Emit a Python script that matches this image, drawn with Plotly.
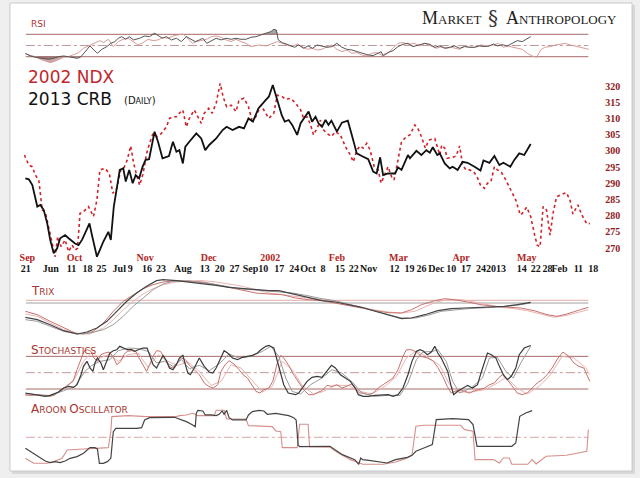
import numpy as np
import plotly.graph_objects as go

# ---------------- data (sessions on a shared trading-day axis) ----------------
# 2002 NDX (red, dotted), rescaled onto the CRB price axis
ndx_x = [4.1, 5.0, 5.7, 6.3, 7.0, 7.7, 8.3, 9.0, 9.9, 10.3, 10.8, 11.5, 12.3, 13.0, 13.7, 14.3, 14.8, 15.3, 16.0, 17.0,
         18.0, 18.7, 19.3, 20.3, 21.2, 21.9, 22.7, 23.5, 24.1, 24.8, 25.5, 26.1, 26.7, 27.3, 28.0, 28.7, 29.3, 30.0, 30.8, 31.7,
         32.7, 33.3, 34.0, 34.7, 35.3, 36.0, 36.7, 37.3, 38.3, 39.0, 39.7, 40.3, 41.2, 41.9, 42.7, 43.5, 44.1, 44.8, 45.7, 46.7,
         47.3, 48.3, 49.2, 49.9, 50.7, 51.7, 52.7, 53.3, 54.3, 55.0, 56.0, 56.7, 57.7, 58.7, 59.7, 60.3, 61.0, 61.7, 62.3, 63.0,
         63.7, 64.0, 65.0, 65.9, 66.7, 67.7, 68.7, 69.7, 70.3, 71.0, 71.7, 72.3, 73.0, 73.7, 74.5, 75.3, 75.9, 76.7, 77.3, 78.0,
         78.5, 79.3, 80.0, 81.0, 81.7, 82.7, 83.3, 84.0, 84.8, 85.5, 86.7, 87.7, 88.1, 88.7, 89.2, 90.3, 91.0, 91.7, 92.3, 93.0,
         93.7, 94.5, 95.2, 95.9, 96.7, 97.3, 98.0, 98.7, 99.3, 100.0, 101.0, 102.0, 103.0, 103.9, 104.3, 105.2, 106.0, 106.8,
         107.3, 107.9, 108.5, 109.2, 109.9, 110.5, 111.2, 112.0, 113.2, 113.9, 114.5, 115.5, 116.3, 117.3, 117.9]
ndx_y = [298.7, 295.6, 295.1, 292.5, 291.0, 281.7, 281.2, 276.1, 269.4, 267.3, 273.5, 270.4, 272.5, 268.9, 270.9, 269.4,
         269.9, 280.7, 281.2, 282.8, 279.7, 284.8, 294.1, 294.6, 293.0, 286.9, 288.4, 294.1, 294.6, 297.2, 301.5, 296.1,
         292.5, 289.4, 293.0, 299.2, 302.3, 305.4, 304.4, 305.4, 307.4, 310.0, 310.5, 310.5, 311.6, 312.6, 307.4, 310.0,
         312.6, 310.5, 308.5, 311.6, 313.1, 311.6, 314.7, 320.8, 316.7, 313.6, 314.1, 312.1, 315.7, 316.2, 313.6, 309.5,
         310.5, 314.1, 311.6, 310.0, 311.6, 317.2, 316.7, 315.9, 316.2, 314.7, 312.6, 310.0, 310.5, 308.0, 304.9, 306.9,
         309.5, 306.9, 305.4, 304.4, 305.9, 304.9, 301.3, 298.7, 296.6, 300.2, 301.5, 300.8, 302.3, 300.2, 295.1, 294.1,
         290.0, 293.0, 295.1, 292.0, 291.0, 297.2, 302.8, 304.4, 304.9, 308.0, 306.9, 304.4, 300.8, 303.3, 303.8, 298.7,
         301.8, 300.8, 297.7, 298.0, 298.4, 301.5, 295.6, 294.1, 294.1, 293.6, 292.0, 289.4, 288.4, 290.0, 290.5, 295.1,
         294.1, 293.6, 291.0, 287.9, 284.8, 280.2, 280.7, 282.6, 279.7, 274.0, 270.9, 270.4, 282.8, 281.7, 274.0, 280.7,
         285.8, 286.4, 287.1, 284.8, 280.5, 283.3, 280.2, 277.4, 277.6]

# 2013 CRB (black, solid)
crb_x = [4.3, 5.0, 5.7, 6.7, 7.3, 8.0, 8.7, 9.3, 10.0, 10.7, 11.3, 12.3, 13.0, 13.7, 14.3, 15.0, 15.7, 16.3, 17.2, 17.7,
         18.7, 19.3, 20.0, 21.0, 21.5, 22.1, 22.7, 23.3, 24.0, 24.5, 25.2, 25.9, 26.5, 27.2, 27.9, 28.5, 29.2, 30.3, 31.0, 31.9,
         33.2, 34.0, 34.7, 35.3, 36.0, 36.5, 37.3, 38.7, 39.7, 40.5, 41.3, 42.7, 44.0, 44.8, 46.0, 47.3, 48.3, 49.2, 50.1, 51.2,
         52.7, 53.3, 54.1, 55.0, 55.9, 56.5, 57.3, 58.0, 59.0, 59.7, 60.7, 61.3, 62.0, 62.7, 63.3, 64.0,
         64.7, 65.3, 65.9, 67.0, 68.0, 69.2, 70.0, 71.0, 72.0, 73.3, 73.9, 74.3, 75.0, 75.7, 76.3, 77.3, 78.7, 79.3, 80.0, 81.3,
         81.7, 83.0, 84.0, 85.0, 85.7, 86.3, 87.2, 87.7, 88.7, 89.7, 90.3, 91.3, 92.3, 93.3, 94.7, 95.9, 96.5, 97.7, 98.7, 99.7,
         100.5, 101.9, 102.7, 103.7, 104.7, 106.0]
crb_y = [291.5, 291.2, 289.4, 282.8, 283.3, 281.7, 277.6, 272.5, 268.4, 269.9, 273.0, 274.0, 273.0, 272.0, 271.4, 270.9,
         272.5, 274.5, 277.6, 274.0, 267.3, 269.4, 272.0, 275.0, 272.5, 282.8, 288.9, 294.1, 294.6, 290.5, 294.1, 290.0,
         292.5, 291.5, 295.1, 297.2, 297.4, 305.9, 302.8, 297.7, 298.4, 302.8, 299.7, 300.2, 296.1, 301.3, 302.8, 305.4,
         303.8, 300.2, 301.8, 303.8, 306.4, 307.4, 306.4, 307.4, 306.9, 310.0, 309.0, 313.1, 315.7, 316.7, 320.3, 315.7,
         311.0, 309.0, 309.5, 308.0, 304.9, 308.5, 311.0, 312.1, 309.0, 310.5, 308.5, 307.4,
         309.5, 308.0, 309.3, 305.9, 308.7, 309.3, 304.9, 299.2, 298.4, 297.4, 295.1, 293.6, 293.0, 298.0, 292.5, 293.0,
         293.0, 294.9, 294.1, 298.7, 297.7, 300.0, 298.7, 300.2, 299.4, 301.1, 298.7, 299.2, 296.1, 294.6, 295.1, 294.1,
         296.6, 296.3, 295.1, 293.9, 297.0, 296.3, 298.4, 295.6, 296.3, 295.1, 297.2, 299.2, 298.7, 302.1]

# RSI
rsi_crb_x = [4.3, 5.3, 6.7, 7.7, 9.0, 10.0, 11.0, 12.0, 13.0, 14.0, 14.8, 15.5, 16.3, 17.3, 18.1, 18.8, 19.7, 20.7, 21.5,
             22.3, 23.0, 23.7, 24.5, 25.2, 26.1, 27.3, 28.3, 29.3, 30.3, 31.0, 31.9, 32.7, 33.7, 34.7, 35.7, 36.7, 37.7,
             38.5, 39.3, 40.0, 40.8, 41.7, 42.7, 43.7, 44.7, 45.7, 46.7, 47.7, 48.7, 49.7, 50.7, 51.7, 52.7, 53.7, 54.3,
             54.8, 55.2, 56.0, 56.8, 57.7, 58.5, 59.3, 60.3, 61.2, 62.1, 63.0, 64.0, 65.0, 66.0, 67.0, 68.0, 69.0, 70.0,
             71.0, 72.0, 73.3, 74.3, 75.3, 75.9, 76.3, 77.3, 78.3, 79.3, 80.3, 81.3, 82.3, 83.3, 84.7, 85.7, 86.7, 87.7,
             88.7, 89.7, 90.7, 91.7, 92.7, 93.7, 94.7, 95.7, 96.7, 97.7, 98.5, 99.3, 100.3, 101.3, 102.3, 103.3, 104.3,
             105.2, 106.0]
rsi_crb_y = [36.1, 31.3, 28.3, 27.1, 25.4, 27.1, 30.1, 31.3, 30.1, 28.3, 27.1, 30.1, 39.0, 49.2, 42.0, 36.1, 43.2, 48.0,
             53.9, 56.9, 62.9, 65.8, 61.1, 65.8, 59.9, 62.9, 67.0, 65.8, 71.8, 68.2, 62.9, 65.8, 59.9, 62.9, 56.9, 65.8,
             61.1, 56.9, 59.9, 62.9, 53.9, 58.7, 62.9, 59.9, 62.9, 61.1, 62.9, 61.1, 61.1, 64.6, 65.8, 68.8, 71.8, 74.8,
             78.9, 77.7, 59.9, 55.1, 52.7, 49.2, 46.8, 51.0, 45.0, 49.2, 45.0, 51.0, 49.2, 46.8, 48.0, 53.9, 46.8, 43.2,
             42.0, 39.0, 37.3, 33.1, 31.9, 36.1, 39.0, 31.3, 37.3, 40.8, 48.0, 52.1, 53.9, 48.0, 51.0, 53.9, 52.1, 46.8,
             49.2, 45.0, 46.8, 49.2, 45.0, 48.0, 46.8, 46.8, 49.2, 48.0, 49.2, 52.7, 49.2, 51.5, 49.2, 53.9, 58.7, 56.9,
             61.1, 65.8]
rsi_ndx_x = [4.3, 5.3, 6.3, 7.3, 8.3, 9.3, 10.0, 11.0, 12.0, 13.0, 14.0, 15.0, 16.0, 17.0, 17.9, 18.7, 19.3, 20.0, 21.0,
             22.0, 23.0, 24.0, 25.0, 26.0, 27.0, 28.0, 29.0, 30.0, 31.0, 32.0, 33.0, 34.0, 35.0, 36.0, 37.0, 37.9, 38.7,
             39.7, 40.8, 41.7, 42.7, 43.7, 44.7, 45.7, 46.7, 47.7, 48.7, 49.7, 50.3, 51.3, 52.7, 54.0, 55.0, 56.0, 57.0,
             58.0, 59.0, 60.0, 61.0, 62.0, 63.0, 64.0, 65.0, 66.0, 67.0, 68.0, 69.0, 70.0, 71.0, 72.0, 73.0, 74.0, 75.0,
             76.0, 77.3, 78.3, 79.3, 80.3, 81.5, 82.5, 83.7, 84.7, 86.0, 87.0, 88.1, 89.2, 90.0, 90.7, 91.7, 92.7, 93.7,
             94.7, 96.0, 97.3, 98.5, 99.5, 100.5, 101.3, 102.3, 103.3, 104.3, 105.3, 106.3, 107.2, 108.0, 108.8, 110.0,
             111.0, 112.0, 113.0, 114.0, 115.0, 116.0, 117.0, 117.7]
rsi_ndx_y = [34.9, 32.5, 30.1, 25.4, 23.0, 19.4, 21.2, 25.4, 28.9, 30.1, 33.1, 37.3, 45.0, 49.2, 53.9, 56.9, 58.7, 55.1,
             61.1, 48.0, 56.9, 61.1, 62.9, 56.9, 51.0, 55.1, 61.1, 58.7, 59.9, 64.6, 62.9, 67.0, 68.8, 70.6, 62.9, 53.9,
             56.9, 58.7, 61.1, 65.8, 67.0, 64.6, 59.9, 56.9, 61.1, 56.9, 53.9, 48.0, 49.2, 51.0, 49.2, 53.9, 56.9, 53.9,
             51.0, 48.0, 52.7, 48.0, 43.2, 45.0, 42.0, 43.2, 48.0, 51.0, 43.2, 39.0, 42.0, 36.1, 37.3, 33.1, 31.3, 36.1,
             37.3, 33.1, 37.3, 45.0, 53.9, 55.1, 52.1, 53.9, 49.2, 53.9, 49.2, 45.0, 48.0, 45.0, 46.8, 45.0, 43.2, 49.2,
             46.8, 46.8, 51.0, 49.2, 51.0, 53.9, 46.8, 49.2, 46.8, 45.0, 43.2, 36.1, 31.3, 28.9, 42.0, 46.8, 48.0, 51.0,
             52.7, 53.9, 51.0, 49.2, 46.8, 45.0, 43.2]

# TRIX (line + signal for each index)
trix_crb_x = [4.3, 6.7, 9.3, 12.0, 14.7, 16.7, 18.7, 20.7, 22.7, 24.7, 26.7, 28.7, 30.7, 32.0, 34.7, 37.3, 40.0, 42.7, 45.3,
              48.0, 50.7, 53.3, 55.3, 57.3, 60.0, 62.7, 64.0, 66.7, 69.3, 72.0, 74.7, 77.3, 80.0, 82.0, 84.7, 87.3, 90.0,
              92.7, 95.3, 98.0, 100.7, 103.3, 106.0]
trix_crb_y = [-0.143, -0.167, -0.217, -0.277, -0.310, -0.290, -0.250, -0.183, -0.083, 0.017, 0.100, 0.167, 0.223, 0.233,
              0.223, 0.210, 0.190, 0.177, 0.157, 0.143, 0.133, 0.123, 0.123, 0.100, 0.067, 0.033, 0.023, 0.010, -0.017,
              -0.043, -0.083, -0.123, -0.157, -0.150, -0.117, -0.077, -0.057, -0.050, -0.043, -0.033, -0.033, -0.017, 0.007]
trix_crb_sig_x = [4.3, 6.7, 9.3, 12.0, 14.7, 17.3, 20.0, 22.0, 24.0, 26.0, 28.0, 30.0, 32.0, 34.0, 36.7, 39.3, 42.0, 44.7,
                  47.3, 50.0, 52.7, 55.3, 58.0, 60.7, 63.3, 64.0, 66.7, 69.3, 72.0, 74.7, 77.3, 80.0, 82.7, 85.3, 88.0,
                  90.7, 93.3, 96.0, 98.7, 101.3, 104.0, 106.0]
trix_crb_sig_y = [-0.167, -0.183, -0.233, -0.283, -0.310, -0.300, -0.267, -0.217, -0.133, -0.033, 0.050, 0.133, 0.190,
                  0.217, 0.223, 0.210, 0.190, 0.167, 0.143, 0.133, 0.123, 0.117, 0.100, 0.077, 0.050, 0.043, 0.023,
                  -0.010, -0.043, -0.077, -0.117, -0.150, -0.150, -0.123, -0.083, -0.067, -0.057, -0.050, -0.043,
                  -0.033, -0.017, 0.0]
trix_ndx_x = [4.3, 6.7, 9.3, 12.0, 14.3, 16.0, 18.0, 20.0, 22.0, 24.0, 26.0, 28.0, 30.0, 32.0, 34.7, 37.3, 40.0, 42.7, 45.3,
              48.0, 50.7, 53.3, 56.0, 58.7, 61.3, 64.0, 66.7, 69.3, 72.0, 74.7, 77.3, 80.0, 82.0, 84.0, 86.7, 88.7, 90.7,
              93.3, 96.0, 98.7, 101.3, 104.0, 106.7, 109.3, 111.3, 113.3, 116.0, 117.6]
trix_ndx_y = [-0.083, -0.117, -0.183, -0.250, -0.300, -0.310, -0.283, -0.200, -0.083, 0.017, 0.083, 0.143, 0.183, 0.210,
              0.223, 0.217, 0.210, 0.183, 0.157, 0.123, 0.100, 0.090, 0.083, 0.050, 0.033, 0.023, 0.0, -0.023, -0.050,
              -0.077, -0.097, -0.100, -0.067, -0.017, 0.023, 0.043, 0.033, 0.010, -0.017, -0.033, -0.043, -0.050, -0.077,
              -0.117, -0.133, -0.110, -0.067, -0.043]
trix_ndx_sig_x = [4.3, 6.7, 9.3, 12.0, 14.7, 17.3, 20.0, 22.0, 24.0, 26.0, 28.0, 30.0, 32.0, 34.7, 37.3, 40.0, 42.7, 45.3,
                  48.0, 50.7, 53.3, 56.0, 58.7, 61.3, 64.0, 66.7, 69.3, 72.0, 74.7, 77.3, 80.0, 82.7, 84.7, 87.0, 89.3,
                  92.0, 94.7, 97.3, 100.0, 102.7, 105.3, 108.0, 110.7, 113.3, 116.0, 117.6]
trix_ndx_sig_y = [-0.110, -0.133, -0.200, -0.267, -0.307, -0.310, -0.250, -0.167, -0.067, 0.017, 0.090, 0.143, 0.183,
                  0.210, 0.223, 0.223, 0.210, 0.190, 0.167, 0.133, 0.100, 0.083, 0.067, 0.050, 0.033, 0.010, -0.017,
                  -0.043, -0.070, -0.090, -0.100, -0.083, -0.043, 0.010, 0.033, 0.033, 0.010, -0.017, -0.043, -0.057,
                  -0.077, -0.110, -0.143, -0.123, -0.083, -0.067]

# Stochastics (%K and %D)
stk_crb_x = [4.3, 5.3, 6.3, 7.3, 8.3, 9.3, 10.0, 11.0, 12.0, 13.0, 14.0, 14.7, 15.5, 16.0, 16.7, 17.3, 17.9, 18.3, 18.8,
             19.5, 20.0, 20.7, 21.3, 22.0, 22.7, 23.3, 24.0, 24.8, 25.7, 26.3, 27.0, 27.9, 28.8, 29.3, 30.0, 30.7, 31.3,
             32.0, 32.7, 33.3, 34.0, 34.7, 35.3, 36.0, 36.5, 37.0, 37.5, 38.3, 39.3, 40.3, 41.3, 42.0, 42.7, 43.7, 44.3,
             45.0, 46.0, 47.0, 48.0, 49.0, 50.0, 51.0, 51.7, 52.7, 53.3, 54.3, 55.0, 55.7, 56.3, 57.2, 58.0, 58.7, 59.3,
             60.0, 61.0, 62.0, 63.0, 64.0, 65.0, 65.9, 66.7, 67.7, 68.7, 69.7, 70.7, 71.3, 72.3, 73.3, 74.7, 76.0, 77.3,
             78.3, 79.3, 80.3, 81.3, 82.1, 83.0, 83.7, 84.3, 85.2, 86.0, 86.7, 87.3, 88.0, 88.7, 89.3, 90.0, 90.5, 91.3,
             92.3, 93.3, 94.3, 95.3, 96.0, 96.7, 97.3, 98.1, 99.0, 99.7, 100.5, 101.3, 102.1, 103.0, 103.7, 104.7, 106.0]
stk_crb_y = [12.6, 10.8, 9.6, 8.4, 6.5, 8.4, 10.8, 14.5, 21.8, 24.9, 23.0, 27.9, 46.3, 61.6, 70.8, 58.6, 52.4, 67.8, 76.9,
             67.8, 55.5, 70.8, 86.1, 90.4, 92.2, 98.4, 95.3, 92.2, 92.2, 89.2, 92.2, 95.3, 95.3, 83.1, 64.7, 58.6, 70.8,
             81.8, 72.0, 58.6, 55.5, 64.7, 76.9, 81.8, 64.7, 49.4, 46.3, 58.6, 76.9, 61.6, 51.2, 49.4, 58.6, 76.9, 90.4,
             86.1, 76.9, 73.9, 78.2, 80.0, 81.8, 86.1, 92.2, 98.4, 100.0, 95.3, 70.8, 46.3, 27.9, 12.6, 10.8, 9.6, 12.6,
             21.8, 34.1, 41.4, 43.3, 41.4, 52.4, 63.5, 58.6, 46.3, 40.2, 34.1, 21.8, 9.6, 6.5, 6.5, 8.4, 8.4, 9.6, 6.5,
             9.6, 21.8, 46.3, 70.8, 89.2, 92.2, 90.4, 83.1, 88.0, 98.4, 86.1, 76.9, 64.7, 52.4, 24.9, 9.6, 15.7, 21.8,
             26.7, 21.8, 27.9, 49.4, 70.8, 86.1, 83.1, 76.9, 61.6, 46.3, 37.1, 43.3, 58.6, 83.1, 95.3, 100.0]
std_crb_x = [4.3, 6.7, 9.3, 12.0, 14.3, 16.3, 17.7, 19.3, 21.3, 23.0, 25.0, 27.0, 29.0, 30.7, 32.3, 34.0, 35.7, 37.3, 39.3,
             41.3, 43.3, 45.3, 47.3, 49.7, 52.0, 53.7, 55.3, 56.7, 58.0, 59.7, 61.7, 64.0, 66.0, 68.0, 70.3, 72.0, 74.7,
             77.3, 79.7, 81.3, 83.0, 84.3, 86.3, 87.3, 89.0, 90.3, 91.7, 94.0, 96.3, 97.7, 99.3, 101.0, 102.5, 104.0, 106.0]
std_crb_y = [11.4, 9.6, 7.7, 16.9, 24.9, 52.4, 63.5, 70.8, 73.9, 90.4, 95.3, 94.1, 89.2, 67.8, 70.8, 61.6, 73.9, 57.3, 63.5,
             53.7, 65.9, 84.3, 76.9, 80.0, 89.2, 98.4, 80.0, 40.2, 15.7, 10.8, 27.9, 40.2, 55.5, 49.4, 31.0, 12.6, 6.5,
             8.4, 8.4, 31.0, 73.9, 88.0, 89.2, 92.2, 70.8, 34.1, 12.6, 21.8, 40.2, 76.9, 78.2, 52.4, 40.2, 67.8, 98.4]
stk_ndx_x = [4.3, 5.3, 6.7, 8.0, 9.3, 10.3, 11.0, 12.0, 13.0, 13.9, 14.7, 15.5, 16.1, 16.8, 17.5, 18.1, 18.8, 19.5, 20.3,
             21.2, 21.9, 22.7, 23.5, 24.1, 24.8, 25.7, 26.5, 27.0, 27.9, 28.7, 29.3, 30.0, 30.7, 31.5, 32.3, 33.2, 34.0,
             34.8, 35.7, 36.5, 37.3, 38.3, 39.3, 40.3, 41.2, 42.1, 43.0, 43.7, 44.5, 45.3, 46.3, 47.3, 48.1, 49.0, 49.9,
             50.7, 51.5, 52.3, 53.3, 54.1, 55.0, 55.7, 56.3, 57.3, 58.3, 59.3, 60.3, 61.3, 62.3, 63.3, 64.0, 65.0, 66.0,
             67.0, 68.0, 69.0, 69.9, 70.7, 71.5, 72.3, 73.3, 74.3, 75.3, 76.3, 77.3, 78.3, 79.3, 80.3, 81.0, 82.0, 83.0,
             84.0, 85.2, 86.3, 87.3, 88.3, 89.2, 90.0, 90.8, 91.7, 92.7, 93.7, 94.7, 95.7, 96.7, 97.7, 98.7, 99.5, 100.3,
             101.3, 102.3, 103.3, 104.3, 105.3, 106.3, 107.3, 108.3, 109.3, 110.3, 111.5, 112.5, 113.7, 114.7, 115.7,
             116.7, 117.3, 117.9]
stk_ndx_y = [9.6, 8.4, 9.6, 8.4, 6.5, 9.6, 15.7, 21.8, 27.9, 34.1, 55.5, 73.9, 89.2, 92.2, 89.2, 76.9, 70.8, 83.1, 86.1,
             88.0, 80.0, 64.7, 70.8, 83.1, 89.2, 90.4, 89.2, 80.0, 64.7, 52.4, 64.7, 80.0, 90.4, 89.2, 76.9, 61.6, 58.6,
             67.8, 76.9, 73.9, 63.5, 55.5, 46.3, 31.0, 24.9, 21.8, 27.9, 52.4, 64.7, 72.0, 65.9, 55.5, 46.3, 40.2, 27.9,
             15.7, 12.6, 18.8, 21.8, 34.1, 67.8, 81.8, 76.9, 63.5, 46.3, 32.8, 18.8, 9.6, 9.6, 14.5, 16.9, 26.7, 24.9,
             27.9, 21.8, 24.9, 29.2, 21.8, 12.6, 12.6, 9.6, 12.6, 21.8, 27.9, 34.1, 40.2, 55.5, 80.0, 92.2, 92.2, 88.0,
             80.0, 76.9, 72.0, 59.8, 43.3, 24.9, 12.6, 15.7, 18.8, 15.7, 12.6, 16.9, 18.8, 21.8, 27.9, 31.0, 40.2, 46.3,
             37.1, 24.9, 12.6, 9.6, 12.6, 21.8, 31.0, 37.1, 46.3, 58.6, 76.9, 88.0, 80.0, 67.8, 61.6, 58.6, 46.3, 34.1]
std_ndx_x = [4.3, 7.3, 10.0, 12.3, 14.3, 16.0, 17.7, 19.3, 21.3, 23.0, 25.0, 27.0, 29.0, 31.0, 33.0, 35.0, 37.0, 39.3, 41.7,
             43.7, 45.7, 47.7, 50.0, 52.0, 54.0, 56.0, 58.0, 60.0, 62.3, 64.0, 66.7, 69.3, 71.7, 74.0, 76.7, 79.0, 81.0,
             83.0, 85.3, 87.7, 89.7, 91.3, 94.0, 96.7, 99.0, 101.0, 103.3, 105.3, 107.7, 110.0, 112.3, 114.7, 117.0, 117.9]
std_ndx_y = [8.4, 8.4, 8.4, 20.6, 40.2, 70.8, 88.0, 76.9, 84.3, 70.8, 83.1, 86.1, 59.8, 83.1, 70.8, 63.5, 69.6, 52.4, 26.7,
             34.1, 64.7, 58.6, 34.1, 14.5, 24.9, 70.8, 55.5, 26.7, 10.8, 14.5, 26.7, 26.7, 15.7, 10.8, 24.9, 43.3, 76.9,
             90.4, 78.2, 63.5, 27.9, 14.5, 14.5, 18.8, 29.2, 41.4, 21.8, 10.8, 24.9, 46.3, 80.0, 76.9, 59.8, 46.3]

# Aroon oscillator
aroon_crb_x = [4.3, 5.3, 6.3, 7.3, 8.3, 9.3, 10.3, 11.3, 12.3, 13.3, 14.7, 16.0, 17.3, 18.3, 18.8, 19.2, 20.0, 20.8, 21.5,
               22.0, 22.5, 26.7, 27.7, 28.3, 29.3, 34.3, 35.3, 36.7, 37.7, 38.5, 38.7, 39.0, 40.0, 40.5, 41.7, 42.7, 43.3,
               43.9, 44.3, 44.8, 45.3, 46.0, 48.7, 49.2, 50.0, 51.3, 52.3, 53.0, 54.7, 56.3, 57.3, 58.3, 58.8, 59.2, 59.5,
               65.6, 68.1, 70.6, 71.4, 71.8, 72.2, 73.8, 75.9, 77.1, 78.8, 81.2, 82.1, 82.9, 84.5, 86.2, 87.0, 90.3, 93.5,
               94.4, 95.2, 98.5, 102.2, 103.0, 103.8, 105.0, 106.3]
aroon_crb_y = [-40.7, -53.1, -63.0, -77.8, -87.7, -93.8, -90.1, -93.8, -87.7, -77.8, -71.6, -59.3, -38.3, -38.3, -43.2,
               -96.3, -96.3, -90.1, -77.8, 21.0, 33.3, 33.3, 35.8, 64.2, 72.8, 74.1, 67.9, 58.0, 48.1, 39.5, 88.9, 100.0,
               97.5, 82.7, 82.7, 80.2, 85.2, 97.5, 85.2, 100.0, 72.8, 64.2, 64.2, 82.7, 95.1, 100.0, 97.5, 85.2, 88.9,
               85.2, 80.2, 72.8, 64.2, -28.4, -34.6, -33.3, -64.2, -82.7, -100.0, -76.5, -82.7, -86.4, -91.4, -95.1,
               -82.7, -74.1, -66.7, -51.9, -39.5, -27.2, 65.4, 69.1, 65.4, 46.9, -33.3, -33.3, -33.3, -21.0, 77.8, 90.1,
               98.8]
aroon_ndx_x = [4.3, 6.0, 8.7, 10.0, 11.7, 12.7, 16.0, 19.0, 21.0, 21.5, 21.7, 25.0, 28.7, 34.7, 35.3, 36.7, 38.0, 39.0,
               42.3, 42.7, 44.3, 44.8, 48.7, 49.2, 54.0, 54.7, 55.7, 56.0, 59.0, 59.5, 61.2, 61.5, 65.6, 67.3, 69.7, 72.2,
               76.3, 78.8, 80.8, 82.1, 82.9, 84.5, 91.9, 92.7, 94.4, 94.8, 98.5, 99.7, 100.5, 101.7, 102.2, 105.4, 106.3,
               107.1, 109.1, 113.2, 117.3, 117.6]
aroon_ndx_y = [-77.8, -96.3, -96.3, -90.1, -77.8, -46.9, -43.2, -40.7, -38.3, 21.0, 76.5, 80.2, 76.5, 76.5, 80.2, 82.7,
               88.9, 80.2, 80.2, 100.0, 100.0, 67.9, 67.9, 43.2, 39.5, 23.5, 21.0, -38.3, -38.3, 48.1, 48.1, -34.6, -37.0,
               -58.0, -82.7, -100.0, -100.0, -91.4, -79.0, -66.7, 40.7, 44.4, 44.4, 28.4, 22.2, -82.7, -82.7, -95.1,
               -76.5, -76.5, -100.0, -100.0, -82.7, -98.8, -70.4, -66.7, -51.9, 28.4]

# axis labels
price_ticks = [270, 275, 280, 285, 290, 295, 300, 305, 310, 315, 320]
ndx_month_pos = [4.7, 14.2, 28.4, 41.2, 53.6, 67.0, 79.4, 92.0, 105.2]
ndx_month_lbl = ["Sep", "Oct", "Nov", "Dec", "2002", "Feb", "Mar", "Apr", "May"]
crb_date_pos = [4.4, 9.4, 13.6, 16.8, 19.6, 23.2, 25.4, 28.8, 31.6, 36.0, 40.4, 43.4, 46.4, 49.6, 52.2, 55.4, 58.4,
                61.2, 64.2, 67.6, 70.4, 73.4, 78.6, 81.6, 84.0, 87.0, 90.0, 93.0, 96.0, 99.0, 104.2, 107.0, 109.4,
                111.8, 115.6, 118.6]
crb_date_lbl = ["21", "Jun", "11", "18", "25", "Jul", "9", "16", "23", "Aug", "13", "20", "27", "Sep", "10", "17",
                "24", "Oct", "8", "15", "22", "Nov", "12", "19", "26", "Dec", "10", "17", "24", "2013", "14", "22",
                "28", "Feb", "11", "18"]

# ---------------- layout helpers ----------------
W, H = 640, 478
XR = [4.0, 119.6]
XD = [20 / W, 598 / W]
GUIDE = [4.4, 117.6]
RED = "#d2232a"
LABEL_RED = "#a8352f"


def dom(top, bottom):
    return [1 - bottom / H, 1 - top / H]


fig = go.Figure()


def line(x, y, color, width, ax, dash="solid"):
    fig.add_trace(go.Scatter(x=x, y=y, mode="lines", xaxis="x" + ax, yaxis="y" + ax,
                             line=dict(color=color, width=width, dash=dash),
                             showlegend=False, hoverinfo="skip"))


def band(x, y, level, color, upper):
    clipped = np.maximum(y, level) if upper else np.minimum(y, level)
    fig.add_trace(go.Scatter(x=x, y=[level] * len(x), mode="lines", line=dict(width=0),
                             xaxis="x", yaxis="y", showlegend=False, hoverinfo="skip"))
    fig.add_trace(go.Scatter(x=x, y=clipped, mode="lines", line=dict(width=0), fill="tonexty",
                             fillcolor=color, xaxis="x", yaxis="y", showlegend=False, hoverinfo="skip"))


# RSI
band(rsi_crb_x, rsi_crb_y, 70, "rgba(90,90,90,0.55)", True)
band(rsi_crb_x, rsi_crb_y, 30, "rgba(90,90,90,0.45)", False)
band(rsi_ndx_x, rsi_ndx_y, 30, "rgba(140,60,60,0.45)", False)
line(rsi_ndx_x, rsi_ndx_y, "#d99a98", 1, "")
line(rsi_crb_x, rsi_crb_y, "#555555", 1, "")

# main price panel
line(ndx_x, ndx_y, RED, 1.6, "2", dash="dot")
fig.add_trace(go.Scatter(x=crb_x, y=crb_y, mode="lines", xaxis="x6", yaxis="y2",
                         line=dict(color="#111111", width=1.8), showlegend=False, hoverinfo="skip"))

# TRIX
line(trix_ndx_sig_x, trix_ndx_sig_y, "#e8b4b2", 1, "3")
line(trix_ndx_x, trix_ndx_y, "#c9706c", 1, "3")
line(trix_crb_sig_x, trix_crb_sig_y, "#9a9a9a", 1, "3")
line(trix_crb_x, trix_crb_y, "#444444", 1.2, "3")

# Stochastics
line(std_ndx_x, std_ndx_y, "#e8b4b2", 1, "4")
line(stk_ndx_x, stk_ndx_y, "#c9706c", 1, "4")
line(std_crb_x, std_crb_y, "#9a9a9a", 1, "4")
line(stk_crb_x, stk_crb_y, "#3a3a3a", 1.2, "4")

# Aroon
line(aroon_ndx_x, aroon_ndx_y, "#d88f8c", 1.1, "5")
line(aroon_crb_x, aroon_crb_y, "#444444", 1.2, "5")

# guide lines
guides = [("", 70, "#a86a68", "solid"), ("", 30, "#a86a68", "solid"), ("", 50, "#c29a99", "dashdot"),
          ("3", 0.027, "#e3a9a7", "solid"), ("3", 0, "#a0a0a0", "solid"),
          ("4", 80, "#a86a68", "solid"), ("4", 20, "#a86a68", "solid"), ("4", 50, "#c29a99", "dashdot"),
          ("5", 0, "#dba7a5", "dashdot")]
shapes = [dict(type="rect", xref="paper", yref="paper", x0=8 / W, x1=635 / W, y0=1 - 474 / H, y1=1 - 5 / H,
               fillcolor="#d8d8d8", line=dict(width=0), layer="below"),
          dict(type="rect", xref="paper", yref="paper", x0=6 / W, x1=632 / W, y0=1 - 471 / H, y1=1 - 3 / H,
               fillcolor="white", line=dict(color="#c9c9c9", width=1), layer="below")]
for ax, lvl, col, dash in guides:
    shapes.append(dict(type="line", xref="x" + ax, yref="y" + ax, x0=GUIDE[0], x1=GUIDE[1], y0=lvl, y1=lvl,
                       line=dict(color=col, width=1, dash=dash), layer="below"))

hidden = dict(visible=False, range=XR, domain=XD, fixedrange=True)
tick_font = dict(family="Liberation Serif", size=10)

fig.update_layout(
    width=W, height=H, margin=dict(l=0, r=0, t=0, b=0),
    paper_bgcolor="#efefef", plot_bgcolor="rgba(0,0,0,0)",
    shapes=shapes,
    xaxis=dict(hidden, anchor="y"),
    yaxis=dict(visible=False, domain=dom(26, 64), range=[16.96, 84.82], anchor="x"),
    xaxis2=dict(range=XR, domain=XD, anchor="y2", showgrid=False, zeroline=False, showline=False, ticks="",
                tickmode="array", tickvals=ndx_month_pos, ticktext=["<b>%s</b>" % t for t in ndx_month_lbl],
                tickfont=dict(tick_font, color="#b3261e"), tickangle=0, ticklabelstandoff=-12),
    xaxis6=dict(range=XR, domain=XD, anchor="y2", overlaying="x2", side="bottom", showgrid=False, zeroline=False,
                showline=False, ticks="", tickmode="array", tickvals=crb_date_pos,
                ticktext=["<b>%s</b>" % t for t in crb_date_lbl], tickfont=dict(tick_font, color="#151515"),
                tickangle=0, ticklabelstandoff=-1),
    yaxis2=dict(domain=dom(70, 262), range=[265.68, 324.94], anchor="x2", side="right", showgrid=False,
                zeroline=False, showline=False, ticks="", tickmode="array", tickvals=price_ticks,
                ticktext=["<b>%d</b>" % v for v in price_ticks], tickfont=dict(tick_font, color="#8e1b1b"),
                ticklabelstandoff=6),
    xaxis3=dict(hidden, anchor="y3"),
    yaxis3=dict(visible=False, domain=dom(278, 338), range=[-0.35, 0.25], anchor="x3"),
    xaxis4=dict(hidden, anchor="y4"),
    yaxis4=dict(visible=False, domain=dom(344, 400), range=[-0.2, 102.7], anchor="x4"),
    xaxis5=dict(hidden, anchor="y5"),
    yaxis5=dict(visible=False, domain=dom(408, 467), range=[-110, 108.5], anchor="x5"),
)

ann = dict(xref="paper", yref="paper", showarrow=False, xanchor="left", yanchor="middle")
small = "<span style='font-size:9px'>%s</span>"
fig.add_annotation(ann, x=22 / W, y=1 - 77 / H, text="2002 NDX",
                   font=dict(family="DejaVu Sans", size=17, color="#c0282d"))
fig.add_annotation(ann, x=22 / W, y=1 - 99 / H, text="2013 CRB",
                   font=dict(family="DejaVu Sans", size=17, color="#111111"))
fig.add_annotation(ann, x=119 / W, y=1 - 101 / H, text="(D<span style='font-size:8px'>AILY</span>)",
                   font=dict(family="DejaVu Sans", size=10, color="#111111"))
fig.add_annotation(ann, x=25 / W, y=1 - 24 / H, text="RSI",
                   font=dict(family="DejaVu Sans", size=9, color=LABEL_RED))
fig.add_annotation(ann, x=25 / W, y=1 - 291 / H, text="T" + small % "RIX",
                   font=dict(family="DejaVu Sans", size=12, color=LABEL_RED))
fig.add_annotation(ann, x=25 / W, y=1 - 350 / H, text="S" + small % "TOCHASTICS",
                   font=dict(family="DejaVu Sans", size=12, color=LABEL_RED))
fig.add_annotation(ann, x=25 / W, y=1 - 409 / H, text="A" + small % "ROON " + "O" + small % "SCILLATOR",
                   font=dict(family="DejaVu Sans", size=12, color=LABEL_RED))

logo_small = "<span style='font-size:13px'>%s</span>"
fig.add_annotation(ann, x=482 / W, y=1 - 18 / H, xanchor="right", text="M" + logo_small % "ARKET",
                   font=dict(family="Liberation Serif", size=18, color="#1c1c1c"))
fig.add_annotation(ann, x=492 / W, y=1 - 18 / H, xanchor="center", text="§",
                   font=dict(family="DejaVu Serif", size=20, color="#333333"))
fig.add_annotation(ann, x=503 / W, y=1 - 18 / H, text="A" + logo_small % "NTHROPOLOGY",
                   font=dict(family="Liberation Serif", size=18, color="#1c1c1c"))

# the page body carries a default 8px margin; drop it so the 640x478 figure fills the window
fig.write_html("out.html", config={"displayModeBar": False},
               post_script="document.body.style.margin='0px';")
